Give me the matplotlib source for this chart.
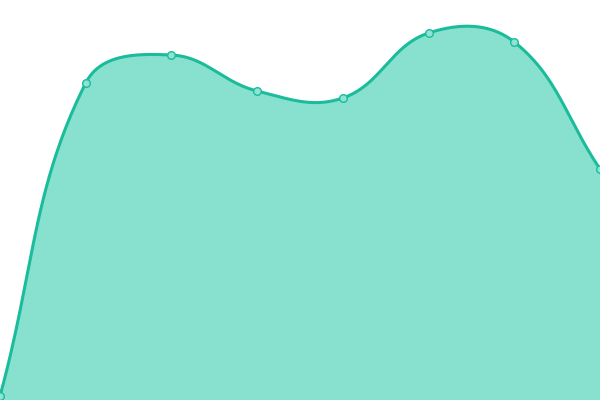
import numpy as np
import matplotlib
matplotlib.use("Agg")
import matplotlib.pyplot as plt

# data (height above bottom edge, 0-400 scale)
categories = ["A", "B", "C", "D", "E", "F", "G", "H"]
values = [4, 317, 345, 309, 302, 367, 358, 231]

line_color = "#1abc9c"
fill_color = "#88e0cf"
marker_face = "#8fe3d2"

W, H = 600, 400
tension = 0.4


def smooth_curve(px, py, n=50):
    # distance weighted bezier smoothing, done in pixel space
    pts = np.column_stack([px, py])
    k = len(pts)
    cp_prev = pts.copy()
    cp_next = pts.copy()
    for i in range(k):
        prev = pts[max(i - 1, 0)]
        nxt = pts[min(i + 1, k - 1)]
        cur = pts[i]
        d01 = np.hypot(*(cur - prev))
        d12 = np.hypot(*(nxt - cur))
        tot = d01 + d12
        s01 = d01 / tot if tot else 0
        s12 = d12 / tot if tot else 0
        cp_prev[i] = cur - tension * s01 * (nxt - prev)
        cp_next[i] = cur + tension * s12 * (nxt - prev)
    t = np.linspace(0, 1, n)[:, None]
    out = []
    for i in range(k - 1):
        p0, p1, p2, p3 = pts[i], cp_next[i], cp_prev[i + 1], pts[i + 1]
        seg = ((1 - t) ** 3 * p0 + 3 * (1 - t) ** 2 * t * p1
               + 3 * (1 - t) * t ** 2 * p2 + t ** 3 * p3)
        out.append(seg)
    out = np.vstack(out)
    return out[:, 0], out[:, 1]


x = np.arange(len(categories), dtype=float)
y = np.array(values, dtype=float)
xscale = W / (len(categories) - 1)
sx, sy = smooth_curve(x * xscale, y)
sx = sx / xscale

fig = plt.figure(figsize=(6, 4), dpi=100)
ax = fig.add_axes([0, 0, 1, 1])
ax.fill_between(sx, sy, 0, color=fill_color, linewidth=0)
ax.plot(sx, sy, color=line_color, linewidth=2.2, solid_capstyle="round")
ax.plot(x, y, "o", markersize=5.5, markerfacecolor=marker_face,
        markeredgecolor=line_color, markeredgewidth=1)
ax.set_xlim(0, len(categories) - 1)
ax.set_ylim(0, H)
ax.axis("off")
fig.savefig("out.png", dpi=100)
